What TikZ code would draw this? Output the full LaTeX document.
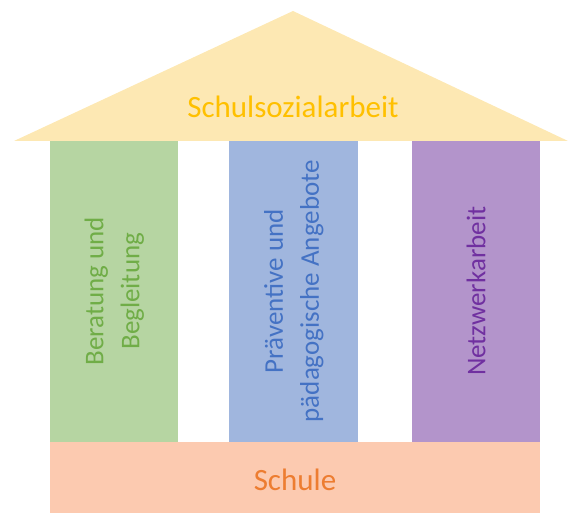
\documentclass[tikz,border=0pt]{standalone}
\usepackage{fontspec}
\setmainfont{Carlito}
\definecolor{roofcol}{HTML}{FDE8B3}
\definecolor{rooftxt}{HTML}{FFC000}
\definecolor{greencol}{HTML}{B6D5A2}
\definecolor{greentxt}{HTML}{70AD47}
\definecolor{bluecol}{HTML}{A0B6DE}
\definecolor{bluetxt}{HTML}{4472C4}
\definecolor{purplecol}{HTML}{B394CB}
\definecolor{purpletxt}{HTML}{7030A0}
\definecolor{basecol}{HTML}{FCCAB0}
\definecolor{basetxt}{HTML}{ED7D31}
\begin{document}
\begin{tikzpicture}[x=1pt,y=1pt,
  pillar/.style={rectangle, inner sep=0pt, minimum width=128pt, minimum height=301pt, anchor=south west},
  label/.style={font=\fontsize{27}{36}\selectfont, align=center, inner sep=0pt},
  biglabel/.style={label, font=\fontsize{31}{38}\selectfont},
  vlabel/.style={label, rotate=90}]
\useasboundingbox (0,0) rectangle (568,513);
\fill[roofcol] (14,372) -- (293,502) -- (568,372) -- cycle;
\node[biglabel, text=rooftxt] (roof) at (293,406) {Schulsozialarbeit};
\node[pillar, fill=greencol] (p1) at (50,71) {};
\node[pillar, fill=bluecol, minimum width=129pt] (p2) at (229,71) {};
\node[pillar, fill=purplecol] (p3) at (412,71) {};
\node[rectangle, inner sep=0pt, anchor=south west, minimum width=490pt, minimum height=71pt, fill=basecol] (base) at (50,0) {};
\node[vlabel, text=greentxt] (t1) at (p1.center) {Beratung und\\Begleitung};
\node[vlabel, text=bluetxt] (t2) at (p2.center) {Präventive und\\pädagogische Angebote};
\node[vlabel, text=purpletxt] (t3) at (p3.center) {Netzwerkarbeit};
\node[biglabel, text=basetxt] (t4) at (295,33) {Schule};
\end{tikzpicture}
\end{document}
